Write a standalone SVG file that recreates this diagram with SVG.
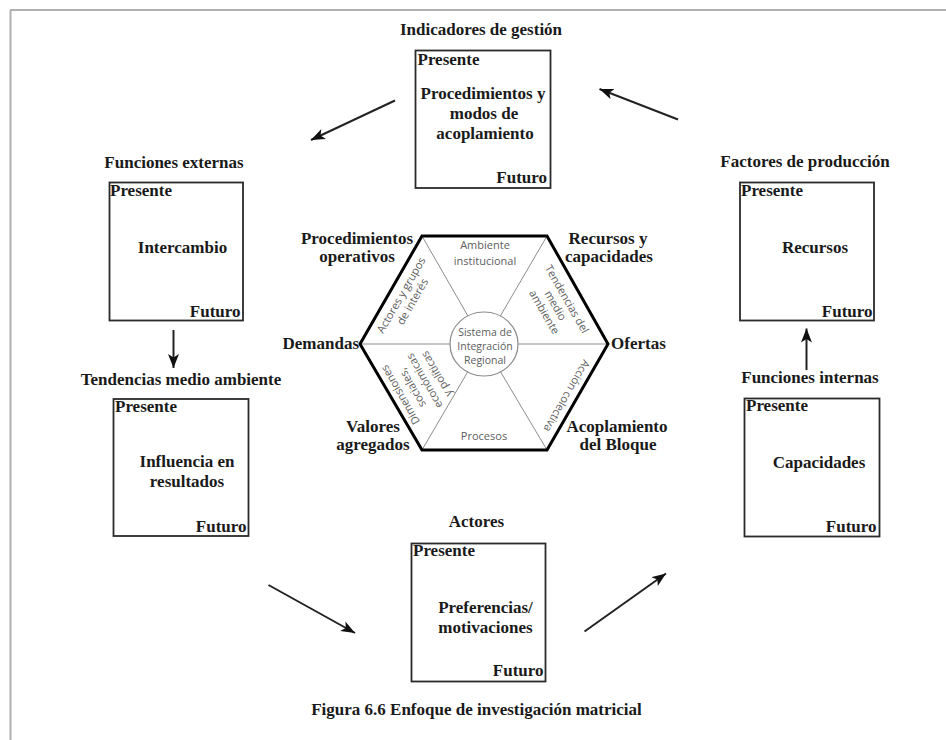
<svg xmlns="http://www.w3.org/2000/svg" width="946" height="740" viewBox="0 0 946 740">
<style>
.b{font-family:"Liberation Serif","Times New Roman",serif;font-weight:bold;font-size:17px;fill:#1a1a1a}
.m{text-anchor:middle}
.e{text-anchor:end}
.s{font-family:"Open Sans","DejaVu Sans",sans-serif;font-size:11px;fill:#5e5e5e;text-anchor:middle}
.box{fill:none;stroke:#2a2a2a;stroke-width:1.8}
.spoke{stroke:#8c8c8c;stroke-width:1}
.arr{stroke:#222;stroke-width:2;fill:none;marker-end:url(#ah)}
</style>
<defs>
<marker id="ah" markerUnits="userSpaceOnUse" markerWidth="16" markerHeight="12" refX="14" refY="5.5" orient="auto">
<path d="M0,0 L14,5.5 L0,11 L3.5,5.5 Z" fill="#111"/>
</marker>
</defs>
<rect x="0" y="0" width="946" height="740" fill="#fff"/>
<g id="frame" stroke="#b0b0b0" stroke-width="2" fill="none">
<line x1="10" y1="10" x2="946" y2="10"/>
<line x1="10.5" y1="10" x2="10.5" y2="740"/>
</g>

<g id="node-indicadores">
<text class="b m" x="481" y="35">Indicadores de gestión</text>
<rect class="box" x="415.5" y="50.5" width="135" height="137.5"/>
<text class="b" x="417.5" y="65">Presente</text>
<text class="b m" x="483" y="99">Procedimientos y</text>
<text class="b m" x="484" y="118.5">modos de</text>
<text class="b m" x="485" y="138.5">acoplamiento</text>
<text class="b e" x="547" y="183">Futuro</text>
</g>

<g id="node-funciones-externas">
<text class="b m" x="174" y="168">Funciones externas</text>
<rect class="box" x="109.5" y="182.5" width="133.5" height="138"/>
<text class="b" x="110" y="196">Presente</text>
<text class="b m" x="182.5" y="253">Intercambio</text>
<text class="b e" x="240.5" y="316.5">Futuro</text>
</g>

<g id="node-tendencias">
<text class="b m" x="181" y="385">Tendencias medio ambiente</text>
<rect class="box" x="113.5" y="399" width="135" height="137"/>
<text class="b" x="115" y="412">Presente</text>
<text class="b m" x="187" y="467">Influencia en</text>
<text class="b m" x="187" y="487">resultados</text>
<text class="b e" x="246.5" y="531.5">Futuro</text>
</g>

<g id="node-factores">
<text class="b m" x="805" y="167">Factores de producción</text>
<rect class="box" x="740" y="182.5" width="134" height="138"/>
<text class="b" x="741" y="196">Presente</text>
<text class="b m" x="815" y="253">Recursos</text>
<text class="b e" x="872.5" y="316.5">Futuro</text>
</g>

<g id="node-funciones-internas">
<text class="b m" x="810" y="383">Funciones internas</text>
<rect class="box" x="744.5" y="398.5" width="135" height="138"/>
<text class="b" x="746" y="411">Presente</text>
<text class="b m" x="819" y="467.5">Capacidades</text>
<text class="b e" x="876.5" y="531.5">Futuro</text>
</g>

<g id="node-actores">
<text class="b m" x="476.5" y="527">Actores</text>
<rect class="box" x="411.5" y="543.5" width="134" height="138"/>
<text class="b" x="413" y="556">Presente</text>
<text class="b m" x="485.5" y="613">Preferencias/</text>
<text class="b m" x="485.5" y="633">motivaciones</text>
<text class="b e" x="543.5" y="676">Futuro</text>
</g>

<g id="node-hexagono">
<line class="spoke" x1="484" y1="344" x2="360" y2="344"/>
<line class="spoke" x1="484" y1="344" x2="608" y2="344"/>
<line class="spoke" x1="484" y1="344" x2="422" y2="236"/>
<line class="spoke" x1="484" y1="344" x2="547" y2="236"/>
<line class="spoke" x1="484" y1="344" x2="422" y2="450"/>
<line class="spoke" x1="484" y1="344" x2="547" y2="450"/>
<polygon points="360,344 422,236 547,236 608,344 547,450 422,450" fill="none" stroke="#000" stroke-width="3" stroke-linejoin="miter"/>
<ellipse cx="484" cy="344" rx="34" ry="32" fill="#fff" stroke="#8c8c8c" stroke-width="1.2"/>
<text class="s" x="485" y="249">Ambiente</text>
<text class="s" x="485" y="265">institucional</text>
<text class="s" x="485" y="336" style="font-size:10.5px">Sistema de</text>
<text class="s" x="485" y="350" style="font-size:10.5px">Integración</text>
<text class="s" x="485" y="364" style="font-size:10.5px">Regional</text>
<text class="s" x="484" y="440">Procesos</text>
<g transform="translate(401,295) rotate(-60)">
<text class="s" x="0" y="4">Actores y grupos</text>
<text class="s" x="0" y="17">de interés</text>
</g>
<g transform="translate(567,299) rotate(60)">
<text class="s" x="0" y="4">Tendencias del</text>
<text class="s" x="0" y="17">medio</text>
<text class="s" x="0" y="30">ambiente</text>
</g>
<g transform="translate(400,395) rotate(-120)">
<text class="s" x="0" y="4">Dimensiones</text>
<text class="s" x="0" y="18">sociales,</text>
<text class="s" x="0" y="32">económicas</text>
<text class="s" x="0" y="46">y políticas</text>
</g>
<g transform="translate(567,396) rotate(120)">
<text class="s" x="0" y="4">Acción colectiva</text>
</g>
<text class="b m" x="357" y="244">Procedimientos</text>
<text class="b m" x="357" y="262">operativos</text>
<text class="b m" x="608" y="244">Recursos y</text>
<text class="b m" x="609" y="262">capacidades</text>
<text class="b e" x="359" y="349">Demandas</text>
<text class="b" x="611" y="349">Ofertas</text>
<text class="b m" x="373" y="432">Valores</text>
<text class="b m" x="373" y="450">agregados</text>
<text class="b m" x="617" y="432">Acoplamiento</text>
<text class="b m" x="618" y="450">del Bloque</text>
</g>

<g id="connectors">
<line class="arr" x1="395" y1="100.5" x2="311" y2="140"/>
<line class="arr" x1="678" y1="119.5" x2="599.5" y2="89"/>
<line class="arr" x1="173.5" y1="330" x2="173.5" y2="368"/>
<line class="arr" x1="806.5" y1="370" x2="806.5" y2="328.5"/>
<line class="arr" x1="268.5" y1="585" x2="355" y2="633"/>
<line class="arr" x1="584.5" y1="631.5" x2="666" y2="573.5"/>
</g>

<text class="b m" x="476.5" y="715">Figura 6.6 Enfoque de investigación matricial</text>
</svg>
